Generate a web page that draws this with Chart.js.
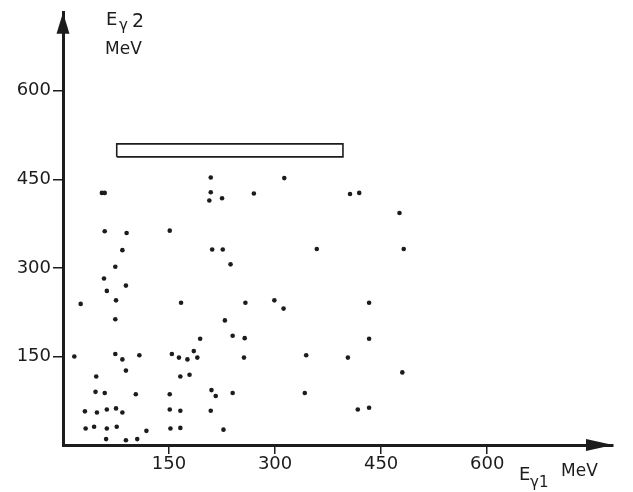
<!DOCTYPE html>
<html>
<head>
<meta charset="utf-8">
<script src="https://cdn.jsdelivr.net/npm/chart.js@4.4.1/dist/chart.umd.min.js"></script>
<style>
html,body{margin:0;padding:0;background:#fff;}
#wrap{width:633px;height:492px;position:relative;}
</style>
</head>
<body>
<div id="wrap"><canvas id="c" width="633" height="492"></canvas></div>
<script>
// Event energies (MeV): photon 1 (x) and photon 2 (y)
const e1 = [55,59,209,209,207,225,270,313,406,419,476,59,90,151,84,211,226,359,482,
  74,58,62,89,25,75,74,167,237,258,299,312,229,240,257,194,185,190,176,164,154,256,344,
  16,74,84,108,89,47,166,179,46,59,103,151,210,216,240,342,
  31,48,62,75,84,151,166,209,32,44,62,76,118,152,166,227,61,89,105,
  433,433,403,480,417,433];
const e2 = [427,427,453,428,414,418,426,452,425,427,393,362,359,363,330,331,331,332,332,
  302,282,261,270,239,245,213,241,306,241,245,231,211,185,181,180,159,148,145,148,154,148,152,
  150,154,145,152,126,116,116,119,90,88,86,86,93,83,88,88,
  57,55,60,62,55,60,58,58,28,31,28,31,24,28,29,26,10,8,10,
  241,180,148,123,60,63];
// Acceptance band outline (MeV)
const bandX = [76, 396];
const bandY = [488, 510];
const tickValues = [150, 300, 450, 600];

const pts = e1.map((v,i)=>({x:v,y:e2[i]}));
const band = [
  {x:bandX[0],y:bandY[0]},{x:bandX[1],y:bandY[0]},
  {x:bandX[1],y:bandY[1]},{x:bandX[0],y:bandY[1]},{x:bandX[0],y:bandY[0]}
];
const ink = '#1c1c1c';
const FONT = "'DejaVu Sans', sans-serif";

const decor = {
  id:'decor',
  afterDraw(chart){
    const ctx = chart.ctx, a = chart.chartArea;
    ctx.save();
    ctx.fillStyle = ink;
    // y arrow
    ctx.beginPath();
    ctx.moveTo(a.left, a.top);
    ctx.lineTo(a.left-6.5, a.top+21);
    ctx.lineTo(a.left+6.5, a.top+21);
    ctx.closePath(); ctx.fill();
    // x arrow
    ctx.beginPath();
    ctx.moveTo(a.right, a.bottom);
    ctx.lineTo(a.right-27, a.bottom-6);
    ctx.lineTo(a.right-27, a.bottom+6);
    ctx.closePath(); ctx.fill();
    // titles
    ctx.textBaseline = 'alphabetic';
    ctx.textAlign = 'left';
    ctx.font = '18px ' + FONT;
    ctx.fillText('E', 106, 25);
    ctx.font = '15px ' + FONT;
    ctx.fillText('γ', 119, 30);
    ctx.font = '19px ' + FONT;
    ctx.fillText('2', 132, 27);
    ctx.font = '17px ' + FONT;
    ctx.fillText('MeV', 105, 54);
    ctx.font = '18px ' + FONT;
    ctx.fillText('E', 519, 480);
    ctx.font = '15px ' + FONT;
    ctx.fillText('γ1', 530, 487);
    ctx.font = '17px ' + FONT;
    ctx.fillText('MeV', 561, 476);
    ctx.restore();
  }
};

new Chart(document.getElementById('c'), {
  type: 'scatter',
  data: {
    datasets: [
      {data: pts, pointRadius: 2.3, pointBackgroundColor: ink, pointBorderWidth: 0, showLine: false},
      {data: band, showLine: true, pointRadius: 0, borderColor: ink, borderWidth: 1.6, fill: false, tension: 0}
    ]
  },
  options: {
    responsive: false,
    animation: false,
    layout: {padding: {top: 12, right: 20, left: 0, bottom: 0}},
    plugins: {legend: {display: false}, tooltip: {enabled: false}},
    scales: {
      x: {
        type: 'linear', min: 0, max: 778,
        afterBuildTicks: s => { s.ticks = tickValues.map(v => ({value: v})); },
        afterFit: s => { s.height = 47; },
        grid: {drawOnChartArea: false, drawTicks: true, tickLength: 9, color: ink, lineWidth: 1.5},
        border: {display: true, color: ink, width: 3},
        ticks: {color: ink, font: {family: FONT, size: 18}, padding: 0, maxRotation: 0}
      },
      y: {
        type: 'linear', min: 0, max: 732,
        afterBuildTicks: s => { s.ticks = tickValues.map(v => ({value: v})); },
        afterFit: s => { s.width = 63; },
        grid: {drawOnChartArea: false, drawTicks: true, tickLength: 10, color: ink, lineWidth: 1.5},
        border: {display: true, color: ink, width: 3},
        ticks: {color: ink, font: {family: FONT, size: 18}, padding: 2}
      }
    }
  },
  plugins: [decor]
});
</script>
</body>
</html>
